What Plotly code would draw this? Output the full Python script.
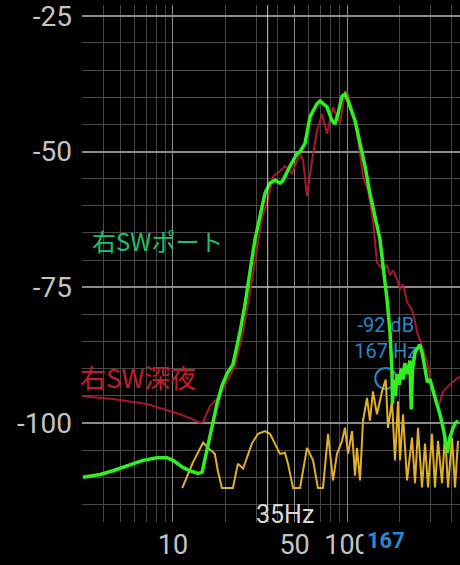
import numpy as np
import plotly.graph_objects as go

# ---- data (frequency Hz, level dB) ----
green_f = [3.04, 3.81, 4.52, 5.66, 6.72, 8.09, 9.24, 10.0, 11.4, 12.5, 13.9, 14.7, 15.3, 16.3, 17.0,
           17.9, 19.1, 20.4, 22.1, 23.3, 24.3, 25.9, 27.0, 28.4, 29.6, 31.6, 33.8, 36.1, 38.6, 41.2,
           42.9, 47.0, 51.6, 53.7, 57.4, 61.3, 67.2, 70.0, 76.8, 82.0, 85.3, 88.7, 93.6, 97.4, 101.4,
           111.2, 118.8, 126.9, 135.5, 144.8, 154.8, 161.0, 169.8, 176.6, 181.4, 182.5, 186, 190, 194,
           200, 205, 210, 215, 222, 230, 234, 238, 246, 255, 262, 270, 280, 290, 300, 312, 325, 342,
           360, 377, 390, 407, 420, 435]
green_db = [-110.0, -109.5, -108.8, -107.8, -106.9, -106.4, -106.4, -106.9, -108.2, -108.8, -109.3,
            -109.1, -106.4, -102.4, -99.6, -96.5, -93.2, -91.0, -89.2, -85.9, -83.2, -78.3, -74.1,
            -69.9, -66.2, -61.9, -57.7, -55.8, -55.3, -55.8, -55.3, -52.7, -50.4, -50.0, -48.5,
            -43.6, -41.2, -40.7, -41.8, -44.3, -44.9, -43.1, -39.8, -39.4, -40.7, -44.3, -48.5,
            -52.7, -57.7, -61.9, -66.2, -71.0, -77.2, -83.2, -90.5, -96.5, -92.0, -95.0, -91.0,
            -93.0, -90.0, -92.0, -89.0, -91.0, -88.5, -97.5, -90.0, -87.0, -86.0, -85.6, -87.0,
            -90.0, -92.5, -92.0, -94.2, -96.0, -98.4, -101.5, -105.5, -102.7, -100.9, -100.0, -99.6]

red_f = [3.0, 4.52, 7.09, 10.97, 12.9, 14.3, 14.9, 16.3, 18.6, 20.4, 22.7, 25.3, 27.7, 30.4, 32.5,
         34.7, 37.6, 41.2, 44.0, 48.3, 53.7, 55.9, 58.9, 63.0, 67.2, 71.8, 76.8, 79.8, 83.1, 91.2,
         97.4, 101.4, 111.2, 118.8, 123.6, 132.0, 141.0, 148.6, 161.0, 169.8, 176.6, 183.7, 193.8,
         201.7, 209.9, 221.3, 236.4, 246.0, 252.6, 269.8, 288.4, 312.0, 333.5, 356.3, 390.8, 428.8, 446]
red_db = [-95.1, -95.6, -96.5, -98.4, -99.3, -100.0, -99.8, -96.9, -95.1, -92.3, -89.6, -83.2, -75.9,
          -67.7, -62.2, -59.5, -54.6, -53.6, -52.7, -54.0, -50.4, -51.6, -58.2, -51.6, -46.2, -43.1,
          -46.7, -44.3, -41.8, -44.9, -38.9, -39.4, -44.3, -50.4, -54.6, -57.1, -62.6, -70.4, -71.7,
          -71.0, -72.8, -71.9, -73.5, -75.4, -74.5, -77.7, -79.2, -81.4, -83.2, -85.9, -88.7, -94.2,
          -97.3, -94.2, -92.9, -91.8, -91.5]

yellow_f = [11.3, 13.0, 14.9, 15.9, 17.4, 18.1, 19.1, 22.1, 23.6, 25.3, 28.4, 30.8, 33.8, 36.1, 39.6,
            41.2, 44.0, 45.8, 49.0, 53.7, 58.9, 63.8, 68.1, 72.8, 77.8, 83.1, 87.6, 93.6, 97.4, 101.4,
            106.9, 111.2, 114.1, 118.8, 123.6, 130.3, 135.5, 141.0, 148.6, 158.9, 167.0, 172.0, 181.4,
            188.7, 196.4, 201.7, 209.9, 221.3, 236.4, 246.0, 255.9, 269.8, 280.8, 292.3, 308.0, 320.4,
            333.5, 351.6, 365.9, 380.7, 401.4, 417.6, 434.5]
yellow_db = [-112.0, -107.3, -103.6, -104.6, -105.7, -108.8, -112.0, -112.0, -107.5, -108.4, -103.8,
             -102.0, -101.5, -102.0, -104.6, -105.7, -105.5, -107.5, -112.0, -112.0, -104.6, -106.9,
             -112.0, -112.0, -102.0, -110.6, -105.7, -103.3, -100.9, -105.7, -101.5, -109.7, -104.6,
             -110.6, -99.6, -95.4, -99.6, -94.2, -98.4, -94.2, -92.0, -100.9, -96.0, -106.9, -96.0,
             -106.9, -98.4, -110.6, -102.7, -111.1, -100.9, -111.9, -103.8, -111.9, -102.0, -111.9,
             -103.3, -111.1, -102.0, -111.9, -102.7, -111.9, -103.3]

y_ticks = [-25, -50, -75, -100]
x_ticks = [10, 50, 100]
x_ticktext = ["10", "50", "100"]
minor_x = [3, 4, 5, 6, 7, 8, 9, 20, 30, 40, 60, 70, 80, 90, 200, 300, 400]
cursor_hz = 35
marker_hz = 167
marker_db = -92

label_port = "右SWポート"
label_night = "右SW深夜"

BLUE = "#2a88cc"
JP = "Noto Sans CJK JP"

fig = go.Figure()

fig.add_trace(go.Scatter(x=red_f, y=red_db, mode="lines",
                         line=dict(color="rgba(185,25,50,0.9)", width=2)))

# marker circle + readout (drawn below green line, as in reference)
fig.add_trace(go.Scatter(x=[marker_hz], y=[-91.8], mode="markers",
                         marker=dict(symbol="circle-open", size=21, color=BLUE,
                                     line=dict(width=2, color=BLUE))))
fig.add_trace(go.Scatter(x=[marker_hz, marker_hz], y=[-82.3, -87.2], mode="text",
                         text=[f"{marker_db} dB", f"{marker_hz} Hz"],
                         textfont=dict(family="Roboto", size=20, color=BLUE),
                         textposition="middle center"))

fig.add_trace(go.Scatter(x=yellow_f, y=yellow_db, mode="lines",
                         line=dict(color="#e0b02a", width=2)))

fig.add_trace(go.Scatter(x=green_f, y=green_db, mode="lines",
                         line=dict(color="#30f020", width=3.5)))

fig.add_shape(type="line", xref="x", yref="paper", x0=cursor_hz, x1=cursor_hz, y0=0, y1=1,
              line=dict(color="rgba(230,230,230,0.85)", width=1))

fig.add_annotation(text=label_port, xref="x", yref="y", x=np.log10(3.33), y=-66.4,
                   xanchor="left", yanchor="middle", showarrow=False,
                   font=dict(family=JP, size=24, color="#20c06a"))
fig.add_annotation(text=label_night, xref="paper", yref="y", x=-0.0106, y=-91.4,
                   xanchor="left", yanchor="middle", showarrow=False,
                   font=dict(family=JP, size=26, color="#c01e2a"))
fig.add_annotation(text=f"{cursor_hz}Hz", xref="x", yref="y", x=np.log10(cursor_hz), y=-116.8,
                   xanchor="left", yanchor="middle", xshift=-14, showarrow=False,
                   font=dict(family="Roboto", size=25, color="#d8d8d8"))
fig.add_annotation(text=f"<b>{marker_hz}</b>", xref="x", yref="paper", x=np.log10(marker_hz),
                   y=-0.036, xanchor="center", yanchor="middle", showarrow=False,
                   bgcolor="#000000", borderpad=3,
                   font=dict(family="Roboto", size=22, color=BLUE))

fig.update_layout(
    width=460, height=565,
    margin=dict(l=82, r=0, t=0, b=43),
    paper_bgcolor="#000000", plot_bgcolor="#000000",
    showlegend=False,
    xaxis=dict(type="log", range=[np.log10(3), 2.6494],
               tickvals=x_ticks, ticktext=x_ticktext,
               tickfont=dict(family="Roboto", size=27, color="#c4c4c4"),
               showgrid=True, gridcolor="#8a8a8a", gridwidth=1.2,
               zeroline=False, showline=False, ticks="", ticklabelstandoff=4,
               minor=dict(tickvals=minor_x, showgrid=True, gridcolor="#484848", gridwidth=1)),
    yaxis=dict(range=[-118.25, -23.0], tickvals=y_ticks,
               ticktext=[str(v) for v in y_ticks],
               tickfont=dict(family="Roboto", size=28, color="#c4c4c4"),
               showgrid=True, gridcolor="#8a8a8a", gridwidth=1.5,
               zeroline=False, showline=False, ticks="", ticklabelstandoff=9,
               ticklabeloverflow="allow",
               minor=dict(dtick=5, tick0=0, showgrid=True, gridcolor="#484848", gridwidth=1)),
)

fig.write_html("out.html", config={"displayModeBar": False},
               post_script="document.body.style.margin='0';document.body.style.background='#000';")
